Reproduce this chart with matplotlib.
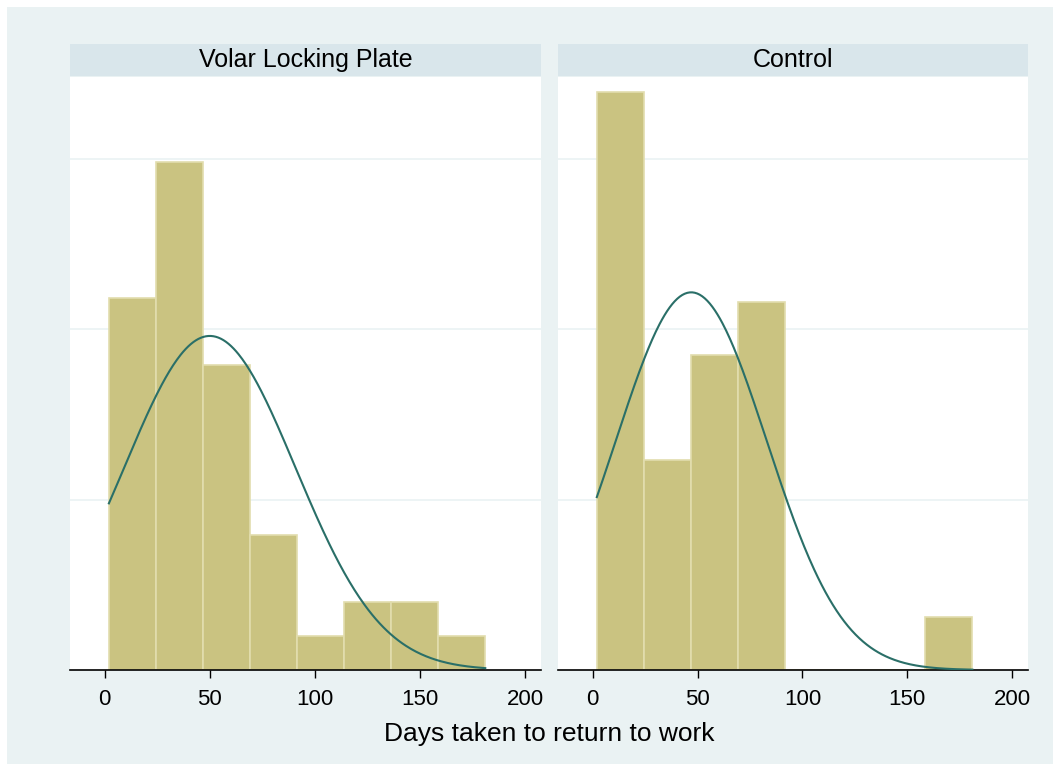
import numpy as np
import matplotlib.pyplot as plt
from matplotlib.patches import Rectangle

plt.rcParams["font.family"] = ["Liberation Sans", "DejaVu Sans"]

# ── Data ───────────────────────────────────────────────────────────────────
panels = ["Volar Locking Plate", "Control"]
bin_edges = np.linspace(2, 181, 9)           # shared bins, width ~22.4 days
counts_volar = [11, 15, 9, 4, 1, 2, 2, 1]
counts_control = [11, 4, 6, 7, 0, 0, 0, 1]
fit_mean = [50.0, 47.0]
fit_sd = [40.7, 36.0]
x_ticks = [0, 50, 100, 150, 200]
grid_y = [0.005, 0.010, 0.015]

# ── Style ──────────────────────────────────────────────────────────────────
BG = "#EAF2F3"
STRIP = "#D9E6EB"
BAR = "#CAC381"
BAR_EDGE = "#E2DDAE"
CURVE = "#2A6F68"

fig = plt.figure(figsize=(10.6, 7.71), dpi=100)
fig.patch.set_facecolor("white")
fig.patches.append(Rectangle((7 / 1060, 7 / 771), 1046 / 1060, 757 / 771,
                             transform=fig.transFigure, facecolor=BG,
                             edgecolor="none", zorder=-10))

W, H = 1060, 771
boxes = [(70, 541), (558, 1028)]
top_px, bot_px, strip_top = 77, 670, 44

for i, (name, counts) in enumerate(zip(panels, [counts_volar, counts_control])):
    x0, x1 = boxes[i]
    ax = fig.add_axes([x0 / W, 1 - bot_px / H, (x1 - x0) / W, (bot_px - top_px) / H])
    ax.set_facecolor("white")

    counts = np.asarray(counts, dtype=float)
    width = np.diff(bin_edges)
    dens = counts / (counts.sum() * width)
    ax.bar(bin_edges[:-1], dens, width=width, align="edge",
           color=BAR, edgecolor=BAR_EDGE, linewidth=1.2, zorder=2)

    xs = np.linspace(bin_edges[0], bin_edges[-1], 300)
    m, s = fit_mean[i], fit_sd[i]
    ax.plot(xs, np.exp(-0.5 * ((xs - m) / s) ** 2) / (s * np.sqrt(2 * np.pi)),
            color=CURVE, linewidth=1.5, zorder=3)

    for g in grid_y:
        ax.axhline(g, color=BG, linewidth=1.2, zorder=1)

    ax.set_xlim(-16.5, 207.5)
    ax.set_ylim(0, 0.0174)
    ax.set_xticks(x_ticks)
    ax.set_yticks([])
    ax.tick_params(axis="x", length=6, width=1, labelsize=16, pad=8)
    for sp in ["top", "right", "left"]:
        ax.spines[sp].set_visible(False)
    ax.spines["bottom"].set_linewidth(1.2)

    # panel title strip
    sax = fig.add_axes([x0 / W, 1 - (top_px - 1) / H, (x1 - x0) / W,
                        (top_px - 1 - strip_top) / H])
    sax.set_facecolor(STRIP)
    sax.set_xticks([])
    sax.set_yticks([])
    for sp in sax.spines.values():
        sp.set_visible(False)
    sax.text(0.5, 0.5, name, ha="center", va="center", fontsize=18,
             transform=sax.transAxes)

fig.text(549 / W, 1 - 734 / H, "Days taken to return to work",
         ha="center", va="center", fontsize=19)

fig.savefig("out.png", dpi=100)
